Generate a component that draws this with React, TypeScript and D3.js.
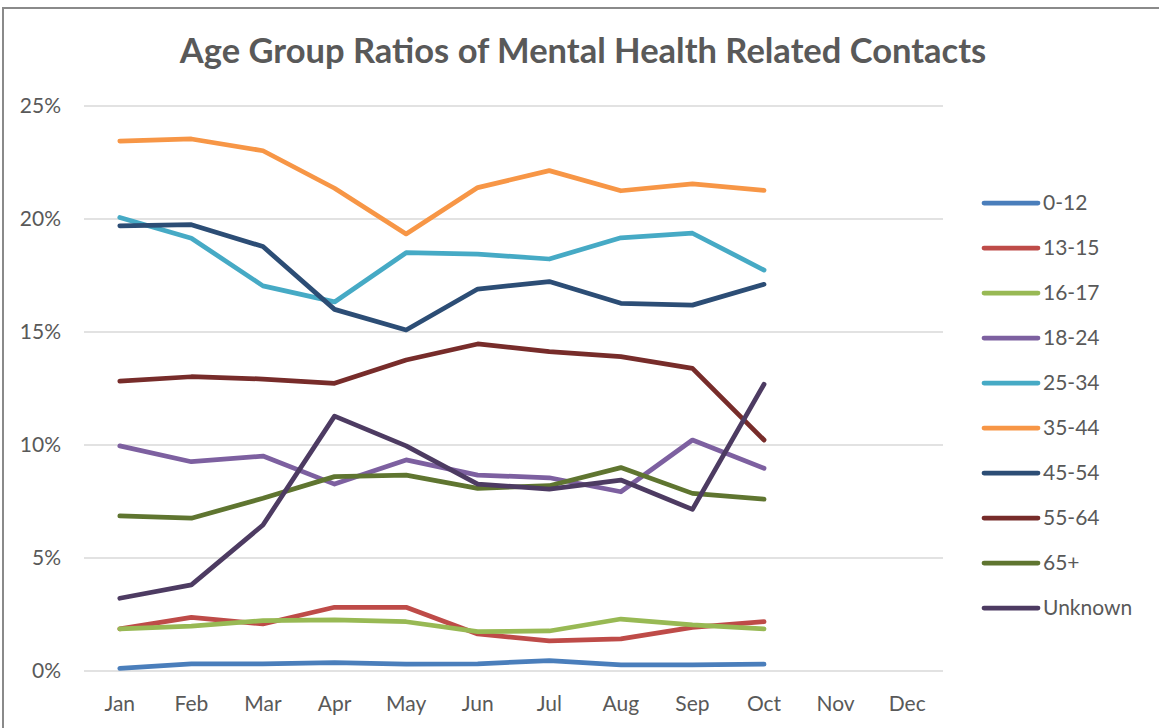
import React from "react";
import * as d3 from "d3";

const months = ["Jan", "Feb", "Mar", "Apr", "May", "Jun", "Jul", "Aug", "Sep", "Oct", "Nov", "Dec"];
const seriesNames = ["0-12", "13-15", "16-17", "18-24", "25-34", "35-44", "45-54", "55-64", "65+", "Unknown"];
const seriesColors = ["#4a7ebb", "#be4b48", "#98b954", "#7d60a0", "#46aac5", "#f79646", "#2c4d75", "#772c2a", "#5f7530", "#4d3b62"];

const v0_12 = [0.12, 0.31, 0.31, 0.37, 0.30, 0.32, 0.46, 0.27, 0.27, 0.30];
const v13_15 = [1.86, 2.37, 2.08, 2.82, 2.82, 1.64, 1.33, 1.42, 1.93, 2.18];
const v16_17 = [1.86, 1.99, 2.23, 2.26, 2.18, 1.74, 1.77, 2.30, 2.04, 1.86];
const v18_24 = [9.96, 9.26, 9.51, 8.27, 9.34, 8.67, 8.55, 7.93, 10.22, 8.97];
const v25_34 = [20.07, 19.15, 17.04, 16.33, 18.51, 18.45, 18.23, 19.17, 19.37, 17.74];
const v35_44 = [23.45, 23.54, 23.02, 21.36, 19.34, 21.39, 22.14, 21.25, 21.55, 21.27];
const v45_54 = [19.70, 19.75, 18.78, 16.0, 15.09, 16.90, 17.23, 16.27, 16.19, 17.11];
const v55_64 = [12.83, 13.02, 12.92, 12.73, 13.76, 14.47, 14.13, 13.91, 13.39, 10.22];
const v65 = [6.86, 6.76, 7.64, 8.60, 8.67, 8.08, 8.20, 9.0, 7.86, 7.60];
const vUnknown = [3.22, 3.81, 6.46, 11.28, 9.96, 8.27, 8.05, 8.45, 7.15, 12.69];

const seriesValues = [v0_12, v13_15, v16_17, v18_24, v25_34, v35_44, v45_54, v55_64, v65, vUnknown];
const yTicks = [0, 5, 10, 15, 20, 25];

const W = 1159;
const H = 728;
const plotLeft = 84;
const plotRight = 943;
const plotTop = 106;
const plotBottom = 671;
const textColor = "#595959";
const font = "Lato, 'Open Sans', sans-serif";

export default function App() {
  const x = d3.scaleBand<string>().domain(months).range([plotLeft, plotRight]);
  const y = d3.scaleLinear().domain([0, 25]).range([plotBottom, plotTop]);
  const line = d3
    .line<number>()
    .x((_, i) => (x(months[i]) as number) + x.bandwidth() / 2)
    .y((d) => y(d));

  return (
    <svg
      width={W}
      height={H}
      style={{ position: "absolute", left: 0, top: 0, background: "#fff" }}
      fontFamily={font}
    >
      <rect x={0} y={0} width={W} height={H} fill="#fff" />
      <line x1={2} x2={W} y1={8} y2={8} stroke="#8a8a8a" strokeWidth={2} />
      <line x1={3} x2={3} y1={7} y2={H} stroke="#8a8a8a" strokeWidth={2} />
      <text x={583} y={63} textAnchor="middle" fontSize={34.5} fontWeight="bold" fill={textColor}>
        Age Group Ratios of Mental Health Related Contacts
      </text>
      {yTicks.map((t) => (
        <g key={t}>
          <line x1={plotLeft} x2={plotRight} y1={y(t)} y2={y(t)} stroke="#d9d9d9" strokeWidth={1.5} />
          <text x={61} y={y(t)} dy="0.35em" textAnchor="end" fontSize={21} fill={textColor}>
            {t}%
          </text>
        </g>
      ))}
      {months.map((m) => (
        <text
          key={m}
          x={(x(m) as number) + x.bandwidth() / 2}
          y={711}
          textAnchor="middle"
          fontSize={21}
          fill={textColor}
        >
          {m}
        </text>
      ))}
      {seriesValues.map((vals, i) => (
        <path
          key={seriesNames[i]}
          d={line(vals) || ""}
          fill="none"
          stroke={seriesColors[i]}
          strokeWidth={4.75}
          strokeLinecap="round"
          strokeLinejoin="round"
        />
      ))}
      {seriesNames.map((n, i) => {
        const ly = 203 + i * 45;
        return (
          <g key={n}>
            <line x1={984} x2={1038} y1={ly} y2={ly} stroke={seriesColors[i]} strokeWidth={4.75} strokeLinecap="round" />
            <text x={1043} y={ly} dy="0.35em" fontSize={21} fill={textColor}>
              {n}
            </text>
          </g>
        );
      })}
    </svg>
  );
}
